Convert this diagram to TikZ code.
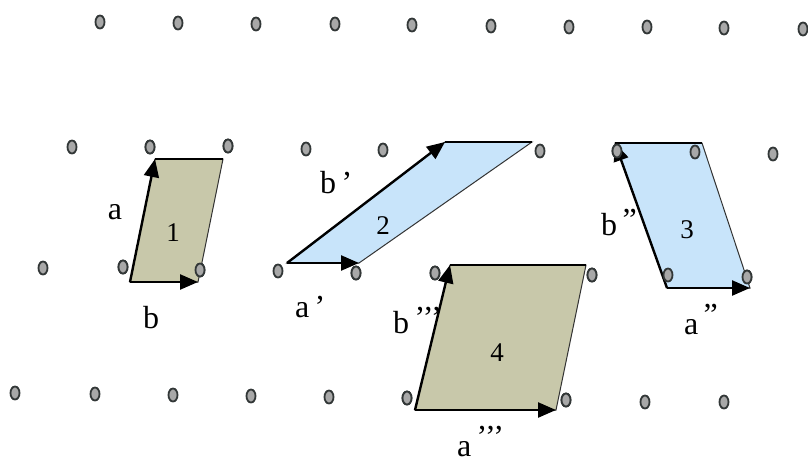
\documentclass[tikz,border=0pt]{standalone}
\usepackage{fontspec}
\setmainfont{Liberation Serif}
\usetikzlibrary{arrows.meta}
\definecolor{khaki}{RGB}{200,200,170}
\definecolor{pale}{RGB}{200,228,250}
\definecolor{dotfill}{RGB}{168,168,168}
\definecolor{dotline}{RGB}{50,55,55}
\begin{document}
\begin{tikzpicture}[x=1pt,y=-1pt,
  site/.style={draw=dotline,fill=dotfill,line width=1.8pt},
  face/.style={draw=black!80,line width=1pt,fill=#1},
  vec/.style={draw=black,line width=2.4pt,-{Triangle[length=18pt,width=15pt]}},
  lbl/.style={inner sep=0pt,font=\fontsize{32}{32}\selectfont},
  num/.style={inner sep=0pt,font=\fontsize{27}{27}\selectfont}]
\fill[white] (0,0) rectangle (808,466);
\useasboundingbox (0,0) rectangle (808,466);
% lattice sites
\foreach \x/\y in {100/22,178/23,256/24,335/24,412/25,491/26,569/27,647/27,724/28,803/29,
  72/147,150/147,228/146,306/149,383/150,464/151,540/151,617/151,695/152,773/154,
  43/268,123/267,200/270,278/271,356/273,435/273,592/275,668/275,747/277,
  15/393,95/394,173/395,251/396,329/397,407/398,566/400,645/402,724/402}
  \draw[site] (\x,\y) ellipse [x radius=4.5pt, y radius=6.5pt];
% cell 1
\coordinate (p1a) at (130,282); \coordinate (p1b) at (198,282);
\coordinate (p1c) at (223,159); \coordinate (p1d) at (155,159);
\draw[face=khaki] (p1a) -- (p1b) -- (p1c) -- (p1d) -- cycle;
\draw[black,line width=2pt] (p1d) -- (p1c);
\draw[vec] (p1a) -- (p1b);
\draw[vec] (p1a) -- (p1d);
% cell 2
\coordinate (p2a) at (287,263); \coordinate (p2b) at (359,263);
\coordinate (p2c) at (532,142); \coordinate (p2d) at (445,142);
\draw[face=pale] (p2a) -- (p2b) -- (p2c) -- (p2d) -- cycle;
\draw[black,line width=2pt] (p2d) -- (p2c);
\draw[vec] (p2a) -- (p2b);
\draw[vec] (p2a) -- (p2d);
% cell 3
\coordinate (p3a) at (667,288); \coordinate (p3b) at (750,288);
\coordinate (p3c) at (702,143); \coordinate (p3d) at (615,143);
\draw[face=pale] (p3a) -- (p3b) -- (p3c) -- (p3d) -- cycle;
\draw[black,line width=2pt] (p3d) -- (p3c);
\draw[vec] (p3a) -- (p3b);
\draw[vec] (p3a) -- (p3d);
% cell 4
\coordinate (p4a) at (415,410); \coordinate (p4b) at (556,410);
\coordinate (p4c) at (586,265); \coordinate (p4d) at (450,265);
\draw[face=khaki] (p4a) -- (p4b) -- (p4c) -- (p4d) -- cycle;
\draw[black,line width=2pt] (p4d) -- (p4c);
\draw[vec] (p4a) -- (p4b);
\draw[vec] (p4a) -- (p4d);
% sites drawn over the cells
\foreach \x/\y in {150/147,228/146,123/267,200/270,356/273,435/273,592/275,
  617/151,695/152,668/275,747/277,407/398,566/400}
  \draw[site] (\x,\y) ellipse [x radius=4.5pt, y radius=6.5pt];
% labels
\node[lbl] (la1) at (115,212) {a};
\node[lbl] (lb1) at (151,318) {b};
\node[num] (n1) at (173,233) {1};
\node[lbl,anchor=base west] (lb2) at (320,193) {b\,’};
\node[lbl,anchor=base west] (la2) at (295,317) {a\,’};
\node[num] (n2) at (383,226) {2};
\node[lbl,anchor=base west] (lb3) at (601,235) {b\,\raisebox{5pt}{”}};
\node[num] (n3) at (687,230) {3};
\node[lbl,anchor=base west] (la3) at (684,334) {a\,\raisebox{9pt}{”}};
\node[lbl,anchor=base west] (lb4) at (393,333) {b\,\raisebox{5pt}{’’’}};
\node[num] (n4) at (497,353) {4};
\node[lbl,anchor=base west] (la4) at (457,456) {a\,\raisebox{9pt}{’’’}};
\end{tikzpicture}
\end{document}
